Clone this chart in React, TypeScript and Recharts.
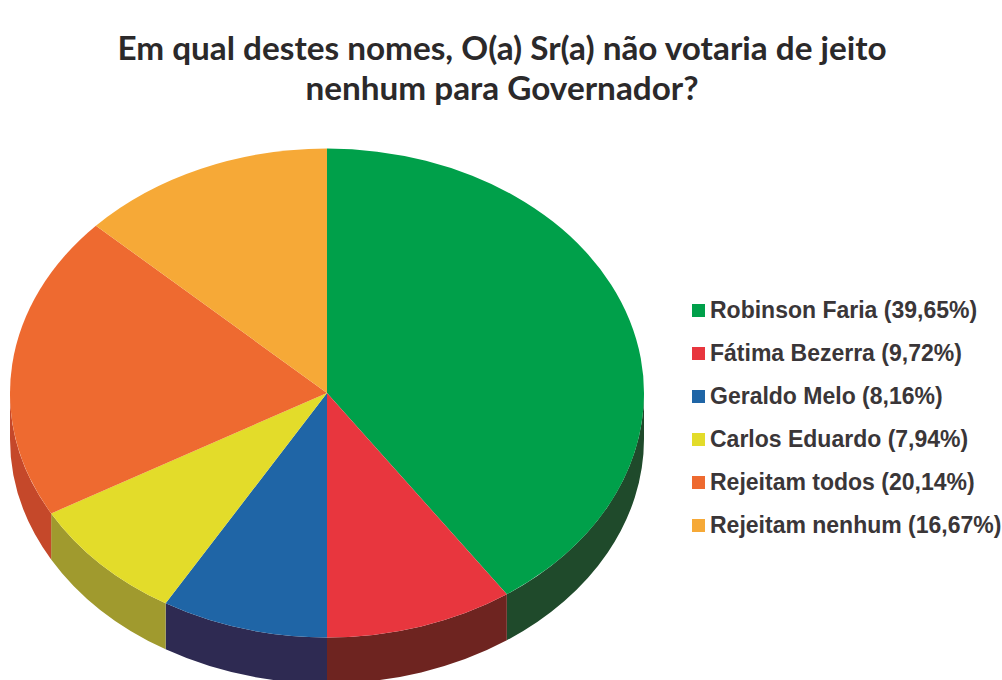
import { PieChart, Pie, Legend } from "recharts";

const names = [
  "Robinson Faria",
  "Fátima Bezerra",
  "Geraldo Melo",
  "Carlos Eduardo",
  "Rejeitam todos",
  "Rejeitam nenhum",
];
// printed in the legend (they add up to more than 100)
const printedPercents = ["39,65", "9,72", "8,16", "7,94", "20,14", "16,67"];
// slice sizes as they are actually drawn in the picture
const drawnShares = [40.4, 9.6, 8.5, 8.3, 20.2, 13.0];
const topColors = ["#00a04a", "#e8363e", "#1f65a6", "#e3dc2a", "#ee6a30", "#f6a937"];
const wallColors = ["#1f4a2b", "#6e2420", "#2e2a52", "#a09a2e", "#c5482a", "#c98a2c"];

const titleLines = [
  "Em qual destes nomes, O(a) Sr(a) não votaria de jeito",
  "nenhum para Governador?",
];

const rows = names.map((name, i) => ({
  name: `${name} (${printedPercents[i]}%)`,
  value: drawnShares[i],
  fill: topColors[i],
}));

const SQUASH = 0.771;
const DEPTH = 46;

function TiltedSlice(props: any) {
  const { cx, cy, outerRadius, startAngle, endAngle, fill, index } = props;
  const rx = outerRadius;
  const ry = outerRadius * SQUASH;
  const at = (deg: number, drop = 0) => {
    const r = (deg * Math.PI) / 180;
    return `${cx + rx * Math.cos(r)} ${cy - ry * Math.sin(r) + drop}`;
  };
  const large = Math.abs(startAngle - endAngle) > 180 ? 1 : 0;
  const top = `M ${cx} ${cy} L ${at(startAngle)} A ${rx} ${ry} 0 ${large} 1 ${at(endAngle)} Z`;

  // the wall only shows on the front half, angles 0 to -180
  const a0 = Math.min(startAngle, 0);
  const a1 = Math.max(endAngle, -180);
  const wall =
    a0 > a1
      ? `M ${at(a0)} A ${rx} ${ry} 0 0 1 ${at(a1)} L ${at(a1, DEPTH)} A ${rx} ${ry} 0 0 0 ${at(a0, DEPTH)} Z`
      : null;

  return (
    <g>
      {wall && <path d={wall} fill={wallColors[index]} stroke="none" />}
      <path d={top} fill={fill} stroke="none" />
    </g>
  );
}

function LegendList({ payload }: any) {
  return (
    <ul style={{ listStyle: "none", margin: 0, padding: 0 }}>
      {(payload || []).map((item: any) => (
        <li
          key={item.value}
          style={{ display: "flex", alignItems: "center", height: 43, whiteSpace: "nowrap" }}
        >
          <span style={{ width: 13, height: 13, background: item.color, marginRight: 5 }} />
          <span
            style={{
              fontFamily: "'Liberation Sans', sans-serif",
              fontWeight: 700,
              fontSize: 23,
              color: "#3a3638",
            }}
          >
            {item.value}
          </span>
        </li>
      ))}
    </ul>
  );
}

export default function App() {
  return (
    <div
      style={{
        position: "fixed",
        left: 0,
        top: 0,
        width: 1002,
        height: 680,
        overflow: "hidden",
        background: "#ffffff",
      }}
    >
      <div
        style={{
          position: "absolute",
          left: 0,
          top: 27,
          width: 1004,
          textAlign: "center",
          fontFamily: "Lato, sans-serif",
          fontWeight: 700,
          fontSize: 33.3,
          lineHeight: "40px",
          color: "#2b292a",
        }}
      >
        {titleLines.map((line) => (
          <div key={line}>{line}</div>
        ))}
      </div>
      <PieChart width={1002} height={680} margin={{ top: 0, right: 0, bottom: 0, left: 0 }}>
        <Pie
          data={rows}
          dataKey="value"
          nameKey="name"
          cx={327}
          cy={393}
          outerRadius={317}
          startAngle={90}
          endAngle={-270}
          shape={TiltedSlice}
          isAnimationActive={false}
        />
        <Legend
          layout="vertical"
          content={LegendList}
          itemSorter={null}
          wrapperStyle={{ position: "absolute", left: 692, top: 289, width: 310, bottom: "auto" }}
        />
      </PieChart>
    </div>
  );
}
